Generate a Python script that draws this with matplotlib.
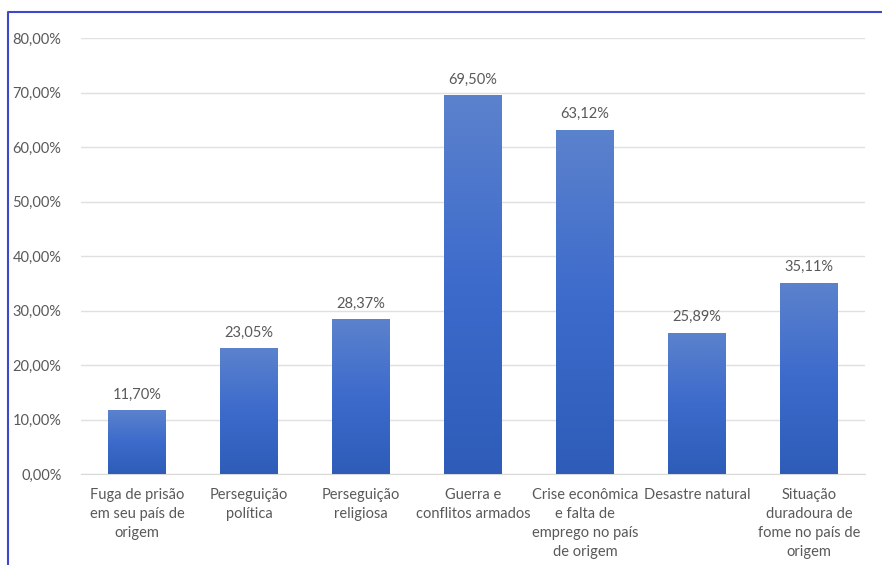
import numpy as np
import matplotlib.pyplot as plt
from matplotlib.lines import Line2D
from matplotlib.colors import LinearSegmentedColormap

categories = ["Fuga de prisão\nem seu país de\norigem",
              "Perseguição\npolítica",
              "Perseguição\nreligiosa",
              "Guerra e\nconflitos armados",
              "Crise econômica\ne falta de\nemprego no país\nde origem",
              "Desastre natural",
              "Situação\nduradoura de\nfome no país de\norigem"]
values = [11.70, 23.05, 28.37, 69.50, 63.12, 25.89, 35.11]
yticks = [0, 10, 20, 30, 40, 50, 60, 70, 80]

plt.rcParams['font.family'] = ['Lato', 'DejaVu Sans']
text_col = "#595959"

fig = plt.figure(figsize=(8.82, 5.65), dpi=100)
ax = fig.add_axes([0.0918, 0.161, 0.889, 0.7717])

x = np.arange(len(values))
bars = ax.bar(x, values, width=0.51, color="#4472c4", zorder=2)

# vertical gradient: lighter at top, darker at bottom
cmap = LinearSegmentedColormap.from_list("g", ["#2e5cb8", "#3d6bcc", "#5b82cc"])
grad = np.linspace(0, 1, 256).reshape(-1, 1)
for b in bars:
    x0, w, h = b.get_x(), b.get_width(), b.get_height()
    im = ax.imshow(grad, cmap=cmap, aspect="auto", origin="lower",
                   extent=[x0, x0 + w, 0, h], zorder=3)
    im.set_clip_path(b)

for xi, v in zip(x, values):
    ax.text(xi, v + 1.6, f"{v:.2f}%".replace(".", ","), ha="center", va="bottom",
            fontsize=10.5, color=text_col)

ax.set_xlim(-0.5, len(values) - 0.5)
ax.set_ylim(0, 80)
ax.set_yticks(yticks)
ax.set_yticklabels([f"{t:.2f}%".replace(".", ",") for t in yticks], fontsize=10.5, color=text_col)
ax.set_xticks(x)
ax.set_xticklabels(categories, fontsize=10.5, color=text_col, linespacing=1.45, va="top")
ax.tick_params(length=0, pad=10)
ax.tick_params(axis="y", pad=14)
ax.grid(axis="y", color="#e0e0e0", linewidth=1, zorder=0)
for s in ["top", "right", "left"]:
    ax.spines[s].set_visible(False)
ax.spines["bottom"].set_color("#d9d9d9")

fig.add_artist(Line2D([8 / 882, 8 / 882, 1.0], [0, 1 - 12 / 565, 1 - 12 / 565],
                      transform=fig.transFigure, color="#3f48cc", linewidth=1.5))

plt.savefig("out.png", dpi=100)
